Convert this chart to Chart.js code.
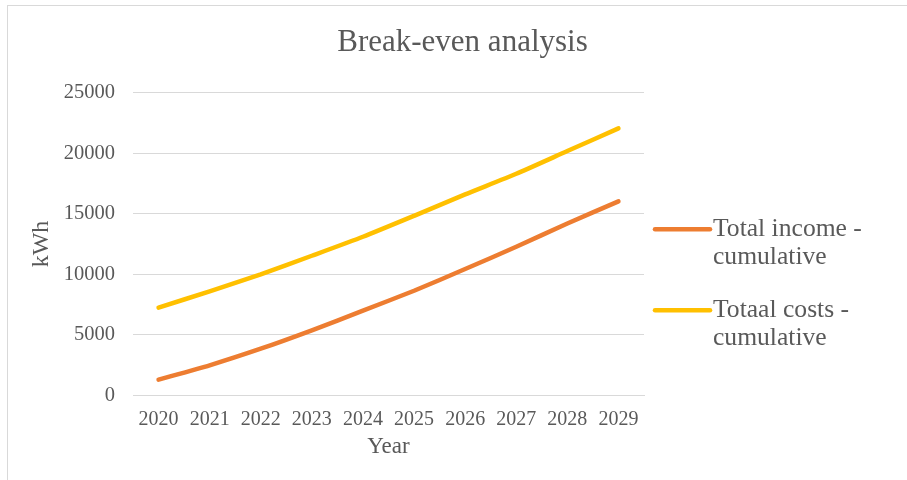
<!DOCTYPE html>
<html>
<head>
<meta charset="utf-8">
<title>Break-even analysis</title>
<script src="https://cdn.jsdelivr.net/npm/chart.js@4/dist/chart.umd.min.js"></script>
<style>
  html, body { margin: 0; padding: 0; background: #ffffff; overflow: hidden; }
  #frame {
    position: absolute; left: 7px; top: 5px; width: 1000px; height: 600px;
    border: 1px solid #d9d9d9; box-sizing: border-box;
  }
  #wrap { position: absolute; left: 0; top: 0; width: 907px; height: 480px; }
</style>
</head>
<body>
<div id="frame"></div>
<div id="wrap"><canvas id="chart" width="907" height="480"></canvas></div>
<script>
// Years on the horizontal axis
const years = ['2020', '2021', '2022', '2023', '2024', '2025', '2026', '2027', '2028', '2029'];

// Cumulative totals per year (kWh)
const incomeCumulative = [1290, 2480, 3850, 5370, 6990, 8640, 10430, 12270, 14200, 16020];
const costsCumulative = [7240, 8590, 9990, 11530, 13100, 14830, 16600, 18300, 20180, 22050];

// Series names, split into the lines shown in the legend
const incomeLabel = ['Total income -', 'cumulative'];
const costsLabel = ['Totaal costs -', 'cumulative'];

const ORANGE = '#ED7D31';
const YELLOW = '#FFC000';
const TEXT = '#595959';
const GRID = '#d9d9d9';
const FONT = "'Liberation Serif', 'Times New Roman', serif";

// Legend drawn at the right of the plot: a short round-capped line and two text lines per series
const sideLegend = {
  id: 'sideLegend',
  afterDraw(chart) {
    const ctx = chart.ctx;
    const area = chart.chartArea;
    const lineX0 = area.right + 11;
    const lineX1 = area.right + 66;
    const textX = area.right + 69;
    const firstY = area.top + 136.5;
    const itemGap = 81;
    const lineGap = 28.5;
    ctx.save();
    ctx.font = '25.6px ' + FONT;
    ctx.textBaseline = 'middle';
    ctx.textAlign = 'left';
    chart.data.datasets.forEach((ds, i) => {
      const y = firstY + i * itemGap;
      ctx.strokeStyle = ds.borderColor;
      ctx.lineWidth = ds.borderWidth;
      ctx.lineCap = 'round';
      ctx.beginPath();
      ctx.moveTo(lineX0, y);
      ctx.lineTo(lineX1, y);
      ctx.stroke();
      ctx.fillStyle = TEXT;
      ds.legendLines.forEach((t, j) => ctx.fillText(t, textX, y + j * lineGap));
    });
    ctx.restore();
  }
};

new Chart(document.getElementById('chart'), {
  type: 'line',
  data: {
    labels: years,
    datasets: [
      {
        label: incomeLabel.join(' '),
        legendLines: incomeLabel,
        data: incomeCumulative,
        borderColor: ORANGE,
        backgroundColor: ORANGE,
        borderWidth: 4.5,
        borderCapStyle: 'round',
        borderJoinStyle: 'round',
        pointRadius: 0,
        tension: 0.2,
        fill: false
      },
      {
        label: costsLabel.join(' '),
        legendLines: costsLabel,
        data: costsCumulative,
        borderColor: YELLOW,
        backgroundColor: YELLOW,
        borderWidth: 4.5,
        borderCapStyle: 'round',
        borderJoinStyle: 'round',
        pointRadius: 0,
        tension: 0.2,
        fill: false
      }
    ]
  },
  options: {
    responsive: false,
    animation: false,
    devicePixelRatio: 1,
    layout: { padding: { left: 20, right: 2, top: 0, bottom: 14.7 } },
    plugins: {
      legend: { display: false },
      tooltip: { enabled: false },
      title: {
        display: true,
        text: 'Break-even analysis',
        color: TEXT,
        font: { family: FONT, size: 31, weight: 'normal' },
        padding: { top: 24, bottom: 31.5 }
      }
    },
    scales: {
      x: {
        offset: true,
        grid: { display: false, drawTicks: false },
        border: { display: true, color: GRID, width: 1 },
        ticks: {
          color: TEXT,
          font: { family: FONT, size: 20 },
          padding: 12,
          maxRotation: 0,
          autoSkip: false
        },
        title: {
          display: true,
          text: 'Year',
          color: TEXT,
          font: { family: FONT, size: 23 },
          padding: { top: 2, bottom: 5 }
        },
        afterFit(scale) { scale.height = 70; }
      },
      y: {
        min: 0,
        max: 25000,
        grid: { color: GRID, lineWidth: 1, drawTicks: false },
        border: { display: false },
        ticks: {
          stepSize: 5000,
          color: TEXT,
          font: { family: FONT, size: 20.5 },
          padding: 18,
          callback: (value) => String(value)
        },
        title: {
          display: true,
          text: 'kWh',
          color: TEXT,
          font: { family: FONT, size: 24 },
          padding: { top: 7.6, bottom: 8 }
        },
        afterFit(scale) { scale.width = 113; }
      },
      // empty band at the right that holds the legend
      legendBand: {
        type: 'linear',
        position: 'right',
        display: true,
        grid: { display: false, drawTicks: false },
        border: { display: false },
        ticks: { display: false },
        afterFit(scale) { scale.width = 261; }
      }
    }
  },
  plugins: [sideLegend]
});
</script>
</body>
</html>
